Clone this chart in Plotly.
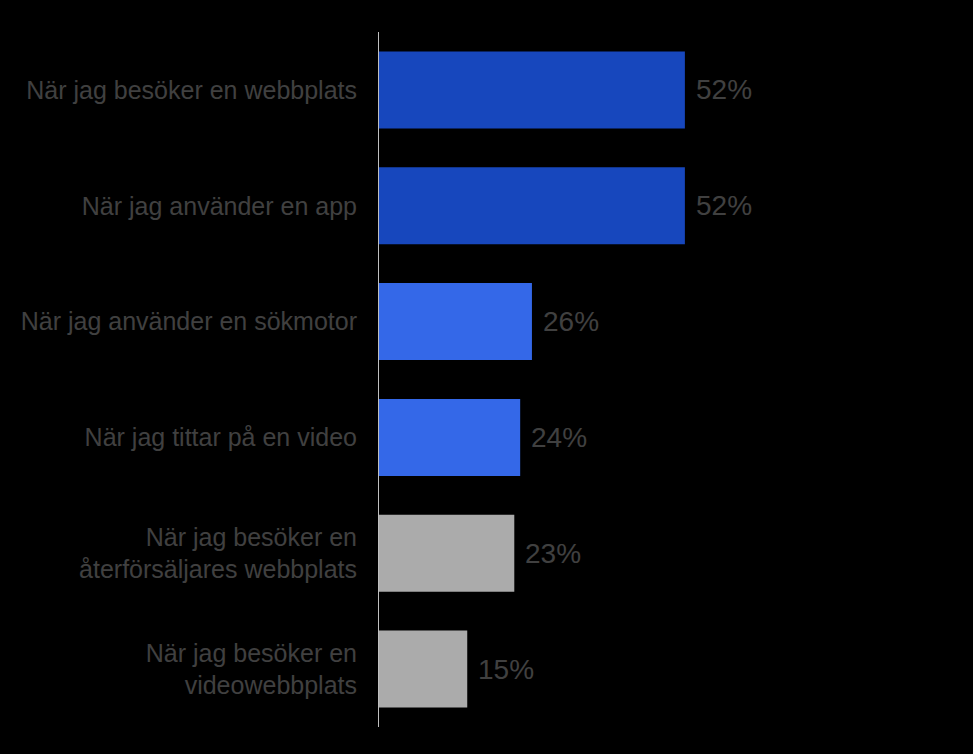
import plotly.graph_objects as go

categories = [
    "När jag besöker en webbplats",
    "När jag använder en app",
    "När jag använder en sökmotor",
    "När jag tittar på en video",
    "När jag besöker en<br>återförsäljares webbplats",
    "När jag besöker en<br>videowebbplats",
]
values = [52, 52, 26, 24, 23, 15]
value_labels = ["52%", "52%", "26%", "24%", "23%", "15%"]
bar_colors = ["#1747BD", "#1747BD", "#3468E8", "#3468E8", "#ABABAB", "#ABABAB"]

text_color = "#404040"
font_family = "Liberation Sans, Arial, sans-serif"

fig = go.Figure(
    go.Bar(
        x=values,
        y=categories,
        orientation="h",
        marker=dict(color=bar_colors, line=dict(width=0)),
        hoverinfo="skip",
    )
)

for cat, v, lab in zip(categories, values, value_labels):
    fig.add_annotation(
        x=v, y=cat, text=lab, showarrow=False,
        xanchor="left", yanchor="middle", xshift=9,
        font=dict(size=28, color=text_color, family=font_family),
    )

fig.update_layout(
    width=973, height=754,
    paper_bgcolor="black", plot_bgcolor="black",
    margin=dict(l=379, r=34, t=32, b=27),
    bargap=0.335,
    showlegend=False,
    font=dict(family=font_family, color=text_color, size=25),
    xaxis=dict(range=[0, 95.2], visible=False, fixedrange=True),
    yaxis=dict(
        categoryorder="array", categoryarray=categories,
        autorange="reversed",
        showline=True, linecolor="#BFBFBF", linewidth=1,
        showgrid=False, zeroline=False, fixedrange=True,
        ticks="", ticklabelstandoff=16,
        tickfont=dict(size=25, color=text_color, family=font_family),
    ),
)

fig.write_html(
    "out.html",
    config={"displayModeBar": False},
    post_script="document.body.style.margin='0';document.body.style.background='black';",
)
